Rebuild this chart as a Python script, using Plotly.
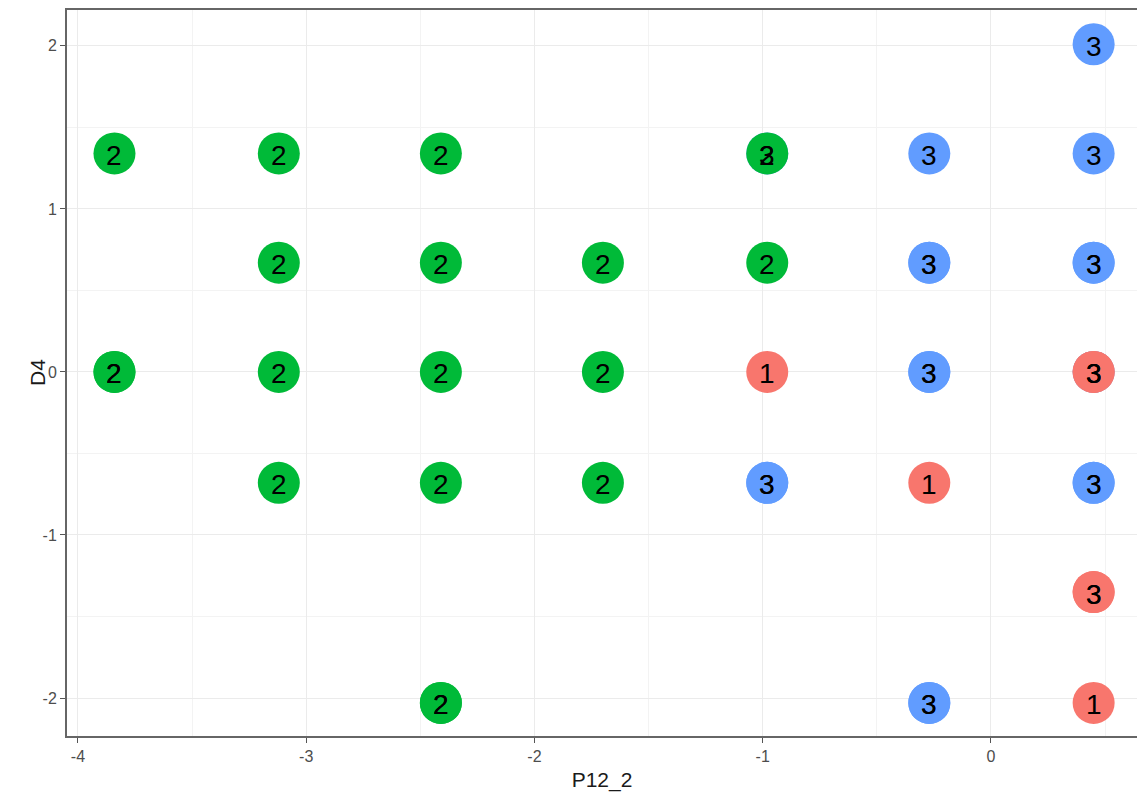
import plotly.graph_objects as go

# Observations: position on P12_2 / D4, colour group and printed label
p12_2 = [
    0.45,
    -0.98, -0.27, 0.45,
    -0.27, -0.27, 0.45, 0.45,
    -0.27, -0.27, 0.45,
    -0.98, -0.98, 0.45, 0.45,
    -0.27, -0.27,
    -3.84, -3.12, -2.41, -0.98,
    -3.12, -2.41, -1.70, -0.98,
    -3.84, -3.84, -3.12, -2.41, -1.70,
    -3.12, -2.41, -1.70,
    -2.41, -2.41,
    -0.98, 0.45, 0.45, -0.27, 0.45, 0.45, 0.45,
]
d4 = [
    2.01,
    1.34, 1.34, 1.34,
    0.67, 0.67, 0.67, 0.67,
    0.0, 0.0, 0.0,
    -0.68, -0.68, -0.68, -0.68,
    -2.03, -2.03,
    1.34, 1.34, 1.34, 1.34,
    0.67, 0.67, 0.67, 0.67,
    0.0, 0.0, 0.0, 0.0, 0.0,
    -0.68, -0.68, -0.68,
    -2.03, -2.03,
    0.0, 0.0, 0.0, -0.68, -1.35, -1.35, -2.03,
]
group = [3] * 17 + [2] * 18 + [1] * 7
label = [
    "3",
    "3", "3", "3",
    "3", "3", "3", "3",
    "3", "3", "3",
    "3", "3", "3", "3",
    "3", "3",
    "2", "2", "2", "2",
    "2", "2", "2", "2",
    "2", "2", "2", "2", "2",
    "2", "2", "2",
    "2", "2",
    "1", "3", "3", "1", "3", "3", "1",
]

group_colours = {1: "#F8766D", 2: "#00BA38", 3: "#619CFF"}
draw_order = [3, 2, 1]

x_ticks = [-4, -3, -2, -1, 0]
x_tick_text = ["-4", "-3", "-2", "-1", "0"]
y_ticks = [-2, -1, 0, 1, 2]
y_tick_text = ["-2", "-1", "0", "1", "2"]

FONT = "Liberation Sans, Arial, sans-serif"

fig = go.Figure()

for g in draw_order:
    xs = [x for x, gg in zip(p12_2, group) if gg == g]
    ys = [y for y, gg in zip(d4, group) if gg == g]
    fig.add_trace(go.Scatter(
        x=xs, y=ys, mode="markers",
        marker=dict(size=42, color=group_colours[g], line=dict(width=0)),
        showlegend=False, hoverinfo="skip",
    ))

# point labels, drawn above every marker
for x, y, t in zip(p12_2, d4, label):
    fig.add_annotation(
        x=x, y=y, text=t, showarrow=False, yshift=-2,
        font=dict(family=FONT, size=28, color="#000000"),
    )

# y-axis title, set close to the tick labels
fig.add_annotation(
    xref="paper", yref="paper", x=0, y=0.5, xshift=-30,
    text="D4", textangle=-90, showarrow=False,
    xanchor="center", yanchor="middle",
    font=dict(family=FONT, size=21, color="#1a1a1a"),
)

fig.update_xaxes(
    range=[-4.048, 0.64],
    tickvals=x_ticks, ticktext=x_tick_text,
    ticks="outside", ticklen=5, tickcolor="#555555", tickwidth=1.2,
    tickfont=dict(family=FONT, size=16, color="#4D4D4D"),
    showgrid=True, gridcolor="#EBEBEB", gridwidth=1.4,
    minor=dict(dtick=0.5, tick0=0, showgrid=True, gridcolor="#F3F3F3", gridwidth=1, ticks=""),
    showline=True, linecolor="#666666", linewidth=2, mirror=True,
    zeroline=False,
    title=dict(text="P12_2", standoff=8, font=dict(family=FONT, size=21, color="#1a1a1a")),
)
fig.update_yaxes(
    range=[-2.233, 2.22],
    tickvals=y_ticks, ticktext=y_tick_text,
    ticks="outside", ticklen=5, tickcolor="#555555", tickwidth=1.2,
    tickfont=dict(family=FONT, size=16, color="#4D4D4D"),
    showgrid=True, gridcolor="#EBEBEB", gridwidth=1.4,
    minor=dict(dtick=0.5, tick0=0, showgrid=True, gridcolor="#F3F3F3", gridwidth=1, ticks=""),
    showline=True, linecolor="#666666", linewidth=2, mirror=False,
    zeroline=False,
)

fig.update_layout(
    width=1137, height=794,
    margin=dict(l=67, r=0, t=10, b=58),
    plot_bgcolor="white", paper_bgcolor="white",
)

fig.write_html("out.html")
